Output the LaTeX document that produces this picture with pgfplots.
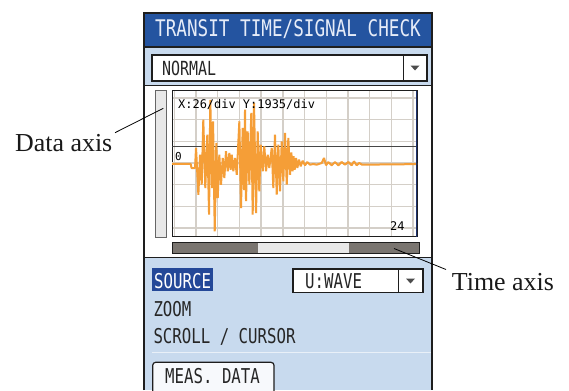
\documentclass[border=0pt]{standalone}
\usepackage{pgfplots}
\pgfplotsset{compat=1.18}
\usepackage{fontspec}
\setmainfont{Liberation Serif}
\newfontfamily\uifont[FakeStretch=0.77]{DejaVu Sans Mono}
\newfontfamily\plotfont{DejaVu Sans Mono}
\definecolor{titleblue}{RGB}{36,84,160}
\definecolor{titletext}{RGB}{230,236,248}
\definecolor{lightblue}{RGB}{200,218,238}
\definecolor{selblue}{RGB}{36,72,152}
\definecolor{gridgray}{RGB}{212,207,200}
\definecolor{zerogray}{RGB}{140,140,140}
\definecolor{cursordark}{RGB}{70,70,70}
\definecolor{wave}{RGB}{245,158,55}
\definecolor{scrolldark}{RGB}{122,117,112}
\definecolor{scrolllight}{RGB}{232,232,232}
\definecolor{framec}{RGB}{30,30,30}
\definecolor{axisblue}{RGB}{30,50,110}
\begin{document}
\begin{tikzpicture}[x=1bp,y=1bp]
\useasboundingbox (0,0) rectangle (569,390);
% panel background
\fill[lightblue] (144,0) rectangle (432,377);
\fill[titleblue] (144,343) rectangle (432,377);
\node[anchor=base west, inner sep=0, text=titletext] at (155,353.3) {\uifont\fontsize{23}{23}\selectfont TRANSIT TIME/SIGNAL CHECK};
\draw[framec, line width=1.5] (144,343)--(432,343);
% NORMAL dropdown
\draw[framec, fill=white, line width=1.2] (152,309) rectangle (427,335);
\draw[framec, line width=1] (403,309)--(403,335);
\fill[black!70] (410.5,324.5)--(419.5,324.5)--(415,319.5)--cycle;
\node[anchor=base west, inner sep=0, text=black!85] at (162,315) {\uifont\fontsize{19.5}{19.5}\selectfont NORMAL};
% white display area
\fill[white] (144,133) rectangle (432,304);
\draw[framec, line width=1.5] (144,304.5)--(432,304.5);
\draw[framec, line width=1.5] (144,132.5)--(432,132.5);
% data axis bar
\draw[black!60, fill=scrolllight, line width=1] (155,153) rectangle (166,300);
% time scrollbar
\fill[scrolldark] (172,137) rectangle (258,147.5);
\fill[scrolllight] (258,137) rectangle (349,147.5);
\fill[scrolldark] (349,137) rectangle (419,147.5);
\draw[framec, line width=1] (172,137) rectangle (419,147.5);
% waveform axis
\begin{axis}[at={(172bp,153.3bp)}, anchor=south west, scale only axis,
  width=245bp, height=146bp,
  xmin=-2.8, xmax=290.8, ymin=-6574, ymax=6449,
  xtick distance=26, ytick distance=1935,
  scaled ticks=false,
  tick label style={text opacity=0, fill opacity=0, draw opacity=0},
  major tick length=0,
  grid=major, major grid style={gridgray, line width=1.4bp},
  extra y ticks={0}, extra y tick labels={},
  extra y tick style={grid style={zerogray, line width=1.3bp}},
  axis line style={draw=framec, line width=1bp},
  axis background/.style={fill=white},
  clip=true]
\addplot[cursordark, line width=1.2bp] coordinates {(-2.8,1454) (290.8,1454)};
\addplot[wave, line width=2bp, line join=bevel] coordinates {
(-3,-80) (19.6,-80) (20.6,-450) (24.8,-450) (26,1340) (28.8,-2830)
(30.8,740) (32.8,-1936) (34.7,3862) (37.1,-2230) (39.5,2524) (41.6,-4612)
(43.1,5620) (45.2,-2230) (46.4,3720) (48.4,-6092) (50.3,1784) (52.0,-3122)
(53.9,740) (55.9,-1936) (58.0,446) (59.9,-1338) (61.9,1044) (64.0,-740)
(65.9,892) (67.5,-600) (68.8,740) (70.7,-740) (72.7,446) (74.8,-1044)
(77.9,3720) (79.9,-4014) (81.9,3122) (83.5,-2408) (84.7,4754) (85.9,-3390)
(87.9,2828) (89.9,-1936) (92.2,4460) (93.9,-4612) (95.5,5350) (97.9,-4460)
(99.9,2828) (101.8,-2524) (103.5,1632) (105.9,-740) (107.8,1490) (109.9,-740)
(111.9,740) (113.8,-446) (116.7,1338) (118.6,-2230) (120.6,2524) (122.7,-2828)
(124.6,1632) (126.6,-2524) (128.7,1936) (130.6,-1632) (132.6,2676) (134.7,-1936)
(136.6,2230) (138.6,-1044) (140.2,950) (141.6,-740) (142.9,598) (144.2,-598)
(145.8,446) (147.4,-446) (149.4,294) (151.4,-294) (153.8,205) (156.6,-205)
(159.3,89) (162.6,-152) (166.5,-89) (170.6,-152) (176.6,0) (179.4,446)
(181.8,-205) (184.5,89) (188.6,-205) (192.5,89) (196.5,-205) (200.5,89)
(204.5,-152) (208.5,89) (212.5,-205) (215.3,152) (218.5,-205) (221.6,0)
(224.9,-150) (291,-100)
};
\draw[axisblue, line width=2bp] (rel axis cs:1,0)--(rel axis cs:1,1);
\end{axis}
\node[anchor=base west, inner sep=0] at (178,281.7) {\plotfont\fontsize{12}{12}\selectfont X:26/div Y:1935/div};
\node[anchor=base west, inner sep=0] at (175,229.3) {\plotfont\fontsize{11}{11}\selectfont 0};
\node[anchor=base west, inner sep=0] at (390,159.3) {\plotfont\fontsize{12}{12}\selectfont 24};
% lower menu
\fill[selblue] (152,99) rectangle (213,122);
\node[anchor=base west, inner sep=0, text=white] at (154,101.7) {\uifont\fontsize{20.5}{20.5}\selectfont SOURCE};
\draw[framec, fill=white, line width=1.2] (293,97.3) rectangle (423,121);
\draw[framec, line width=1] (398,97.3)--(398,121);
\fill[black!70] (406,111.5)--(415,111.5)--(410.5,106.5)--cycle;
\node[anchor=base west, inner sep=0, text=black!85] at (305,101.7) {\uifont\fontsize{20.5}{20.5}\selectfont U:WAVE};
\node[anchor=base west, inner sep=0, text=black!85] at (153.3,73.3) {\uifont\fontsize{20.5}{20.5}\selectfont ZOOM};
\node[anchor=base west, inner sep=0, text=black!85] at (153.3,46.7) {\uifont\fontsize{20.5}{20.5}\selectfont SCROLL / CURSOR};
\draw[white!60!lightblue, line width=1.2] (152,37.5)--(431,37.5);
\draw[framec, fill=white!85!lightblue, line width=1.2, rounded corners=3] (152.7,-4) rectangle (274,27.7);
\node[anchor=base west, inner sep=0, text=black!85] at (165,6.7) {\uifont\fontsize{20.5}{20.5}\selectfont MEAS. DATA};
% panel frame
\draw[framec, line width=2] (144,0)--(144,377)--(432,377)--(432,0);
% annotations
\node[anchor=base west, inner sep=0, text=black!90] at (15,239) {\fontsize{26}{26}\selectfont Data axis};
\draw[black, line width=0.8] (115,257.3)--(163.3,281.7);
\node[anchor=base west, inner sep=0, text=black!90] at (451.7,100) {\fontsize{26}{26}\selectfont Time axis};
\draw[black, line width=0.8] (394,141.5)--(446,120.5);
\end{tikzpicture}
\end{document}
